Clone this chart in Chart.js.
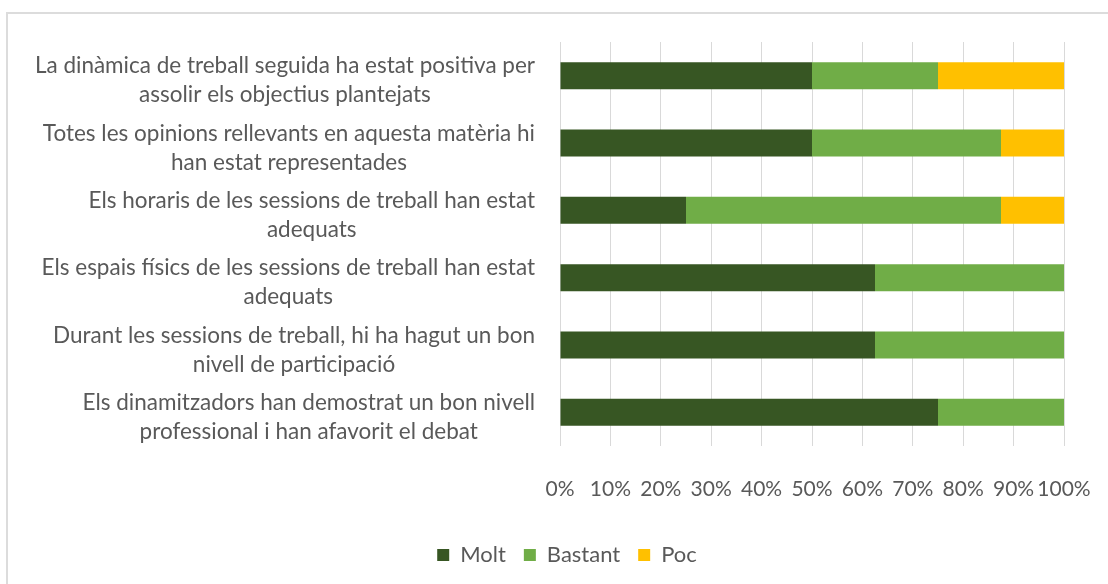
<!DOCTYPE html>
<html>
<head>
<meta charset="utf-8">
<script src="https://cdn.jsdelivr.net/npm/chart.js@4.4.1/dist/chart.umd.min.js"></script>
<style>
html,body{margin:0;padding:0;background:#fff;}
#wrap{position:relative;width:1108px;height:584px;overflow:hidden;}
#frame{position:absolute;left:6px;top:12px;width:1130px;height:620px;border:2px solid #dcdcdc;box-sizing:border-box;}
canvas{position:absolute;left:0;top:0;}
</style>
</head>
<body>
<div id="wrap"><div id="frame"></div><canvas id="c" width="1108" height="584"></canvas></div>
<script>
const categories = [
  ["La dinàmica de treball seguida ha estat positiva per", "assolir els objectius plantejats"],
  ["Totes les opinions rellevants en aquesta matèria hi", "han estat representades"],
  ["Els horaris de les sessions de treball han estat", "adequats"],
  ["Els espais físics de les sessions de treball han estat", "adequats"],
  ["Durant les sessions de treball, hi ha hagut un bon", "nivell de participació"],
  ["Els dinamitzadors han demostrat un bon nivell", "professional i han afavorit el debat"]
];
const seriesNames = ["Molt", "Bastant", "Poc"];
const molt = [50, 50, 25, 62.5, 62.5, 75];
const bastant = [25, 37.5, 62.5, 37.5, 37.5, 25];
const poc = [25, 12.5, 12.5, 0, 0, 0];
const tickValues = [0, 10, 20, 30, 40, 50, 60, 70, 80, 90, 100];
const tickLabels = ["0%", "10%", "20%", "30%", "40%", "50%", "60%", "70%", "80%", "90%", "100%"];

const FONT_FAMILY = "Lato, 'Open Sans', sans-serif";
const TEXT_COLOR = "#595959";

const yLabelPlugin = {
  id: 'yLabelPlugin',
  afterLayout(chart) {
    const lg = chart.legend;
    if (lg) { lg.left += 35; lg.right += 35; }
  },
  afterDraw(chart) {
    const ctx = chart.ctx;
    const yScale = chart.scales.y;
    const right = chart.chartArea.left - 25;
    const lineH = 29;
    ctx.save();
    ctx.font = "22.5px " + FONT_FAMILY;
    ctx.fillStyle = TEXT_COLOR;
    ctx.textAlign = 'center';
    ctx.textBaseline = 'middle';
    categories.forEach((lines, i) => {
      const yc = yScale.getPixelForTick(i) + 5;
      let w = 0;
      lines.forEach(l => { w = Math.max(w, ctx.measureText(l).width); });
      const cx = right - w / 2;
      const n = lines.length;
      lines.forEach((l, j) => {
        ctx.fillText(l, cx, yc + (j - (n - 1) / 2) * lineH);
      });
    });
    ctx.restore();
  }
};

new Chart(document.getElementById('c'), {
  type: 'bar',
  data: {
    labels: categories,
    datasets: [
      { label: seriesNames[0], data: molt, backgroundColor: '#375623', borderWidth: 0 },
      { label: seriesNames[1], data: bastant, backgroundColor: '#70AD47', borderWidth: 0 },
      { label: seriesNames[2], data: poc, backgroundColor: '#FFC000', borderWidth: 0 }
    ]
  },
  options: {
    indexAxis: 'y',
    responsive: false,
    animation: false,
    devicePixelRatio: 1,
    layout: { padding: { left: 0, right: 44, top: 42, bottom: 8 } },
    datasets: { bar: { barPercentage: 0.4, categoryPercentage: 1.0 } },
    scales: {
      x: {
        stacked: true,
        min: 0,
        max: 100,
        afterBuildTicks(scale) { scale.ticks = tickValues.map(v => ({ value: v })); },
        afterFit(scale) { scale.height = 80; scale.paddingLeft = 0; scale.paddingRight = 0; },
        ticks: {
          callback: (v, i) => tickLabels[i],
          color: TEXT_COLOR,
          font: { family: FONT_FAMILY, size: 21 },
          padding: 31,
          maxRotation: 0,
          autoSkip: false
        },
        grid: { color: '#d9d9d9', lineWidth: 1, drawTicks: false },
        border: { display: false }
      },
      y: {
        stacked: true,
        afterFit(scale) { scale.width = 560; },
        grid: { display: false },
        border: { display: false },
        ticks: { color: 'rgba(0,0,0,0)', font: { family: FONT_FAMILY, size: 20 } }
      }
    },
    plugins: {
      legend: {
        position: 'bottom',
        labels: {
          boxWidth: 12,
          boxHeight: 12,
          padding: 18,
          color: TEXT_COLOR,
          font: { family: FONT_FAMILY, size: 22 }
        }
      },
      tooltip: { enabled: false },
      title: { display: false }
    }
  },
  plugins: [yLabelPlugin]
});
</script>
</body>
</html>
